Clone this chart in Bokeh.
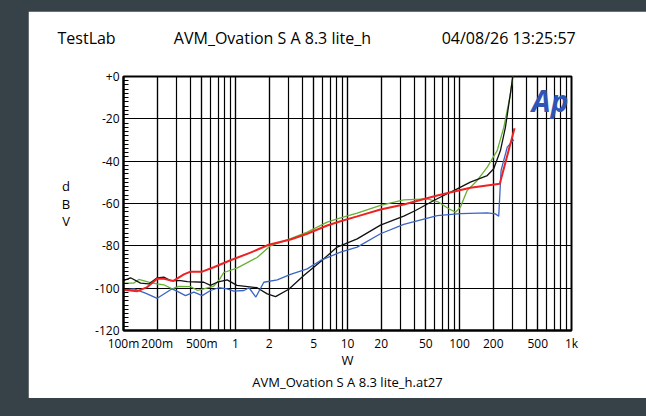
from bokeh.plotting import figure
from bokeh.models import FixedTicker, Label, Title, GlobalInlineStyleSheet
from bokeh.embed import file_html
from bokeh.resources import INLINE

# ---- axis ticks / labels ----
x_major = [0.1, 0.2, 0.5, 1, 2, 5, 10, 20, 50, 100, 200, 500, 1000]
x_labels = ["100m", "200m", "500m", "1", "2", "5", "10", "20", "50", "100", "200", "500", "1k"]
x_minor = [0.1, 0.2, 0.3, 0.4, 0.5, 0.6, 0.7, 0.8, 0.9,
           1, 2, 3, 4, 5, 6, 7, 8, 9,
           10, 20, 30, 40, 50, 60, 70, 80, 90,
           100, 200, 300, 400, 500, 600, 700, 800, 900, 1000]
y_major = [-120, -100, -80, -60, -40, -20, 0]
y_labels = ["-120", "-100", "-80", "-60", "-40", "-20", "+0"]
y_minor = list(range(-120, 1, 2))

header_texts = ["TestLab", "AVM_Ovation S A 8.3 lite_h", "04/08/26 13:25:57"]
x_title = "W"
y_title = "d\nB\nV"
file_title = "AVM_Ovation S A 8.3 lite_h.at27"

# ---- series (W, dBV) ----
red_w = [0.100, 0.133, 0.163, 0.200, 0.230, 0.279, 0.346, 0.397, 0.504, 0.640, 0.902, 1.36, 1.98,
         3.10, 4.37, 6.59, 8.66, 12.2, 19.7, 31.8, 63.2, 125, 229, 310]
red_db = [-100.8, -101.4, -99.5, -95.5, -95.6, -96.6, -93.5, -92.2, -92.2, -90.1, -86.8, -83.2, -79.5,
          -77.0, -74.3, -70.4, -68.4, -66.1, -62.8, -60.5, -56.2, -52.6, -50.7, -24.4]

black_w = [0.100, 0.1155, 0.142, 0.168, 0.200, 0.229, 0.263, 0.323, 0.371, 0.521, 0.598, 0.687, 0.843,
           1.03, 1.56, 1.92, 2.28, 2.99, 4.07, 5.94, 8.09, 12.2, 19.7, 31.8, 40.5, 59.0, 77.6, 95.4,
           125, 177, 202, 232, 257, 285, 300]
black_db = [-96.4, -95.1, -97.6, -98.0, -95.1, -94.8, -96.4, -96.4, -96.9, -97.2, -98.7, -97.2, -96.1,
            -98.7, -99.8, -102.7, -104.0, -100.5, -94.0, -86.8, -80.6, -76.7, -70.2, -66.0, -63.3, -58.6,
            -55.4, -53.1, -49.9, -46.8, -43.6, -35.0, -24.0, -8.0, 0.5]

green_w = [0.100, 0.124, 0.137, 0.168, 0.200, 0.229, 0.272, 0.312, 0.397, 0.455, 0.521, 0.640, 0.709,
           0.786, 1.03, 1.56, 2.05, 3.10, 4.37, 6.59, 8.66, 12.2, 19.7, 31.8, 51.5, 65.3, 80.2, 92.1,
           102, 117, 144, 177, 217, 249, 285, 300]
green_db = [-97.6, -97.6, -95.9, -97.2, -98.0, -98.4, -100.3, -99.2, -99.3, -101.0, -100.3, -99.0, -96.4,
            -92.6, -90.5, -85.5, -80.0, -76.6, -73.5, -68.8, -66.8, -64.6, -60.9, -58.3, -57.8, -59.4,
            -62.5, -64.1, -61.7, -53.9, -49.1, -42.8, -35.0, -23.9, -8.2, 0.5]

blue_w = [0.100, 0.124, 0.157, 0.200, 0.237, 0.272, 0.312, 0.358, 0.425, 0.504, 0.598, 0.709, 0.843,
          0.966, 1.19, 1.32, 1.52, 1.79, 2.36, 3.10, 4.37, 5.74, 8.66, 12.2, 19.7, 31.8, 63.2, 102,
          177, 209, 224, 235, 267, 305]
blue_db = [-100.8, -100.3, -102.3, -104.8, -102.3, -100.3, -101.9, -103.5, -101.9, -103.5, -101.1, -99.8,
           -100.3, -101.4, -101.1, -99.8, -104.2, -97.2, -96.1, -93.5, -90.9, -86.9, -83.0, -80.6, -74.3,
           -69.9, -65.7, -64.8, -64.4, -64.9, -66.0, -44.4, -33.4, -29.9]

FONT = "Open Sans"
NB = "\u00a0"

p = figure(x_axis_type="log", x_range=(0.1, 1000), y_range=(-120, 0),
           width=618, height=387,
           min_border_left=95, min_border_right=75, min_border_top=65, min_border_bottom=68,
           output_backend="svg", toolbar_location=None,
           background_fill_color="white", border_fill_color="white")
p.stylesheets = [GlobalInlineStyleSheet(css="html,body{background:#374148;} body{margin:0;padding:0;}")]
p.styles = {"position": "relative", "left": "28px", "top": "11px"}

# header line (one title row, three fields); a blank second line lifts the row upward
p.title = Title(text=header_texts[0] + NB * 14 + header_texts[1] + NB * 17 + header_texts[2] + "\n" + NB,
                align="left", vertical_align="top", offset=-66, standoff=8,
                text_font=FONT, text_font_size="16px",
                text_font_style="normal", text_color="black")

p.outline_line_color = "black"
p.outline_line_width = 2

# x axis
p.xaxis.ticker = FixedTicker(ticks=x_major, minor_ticks=x_minor)
p.xaxis.major_label_overrides = {t: l for t, l in zip(x_major, x_labels)}
p.xaxis.major_tick_in = 0
p.xaxis.major_tick_out = 0
p.xaxis.minor_tick_in = 0
p.xaxis.minor_tick_out = 0
p.xaxis.axis_line_color = "black"
p.xaxis.axis_line_width = 2
p.xaxis.major_label_standoff = 4
p.xaxis.axis_label = x_title
p.xaxis.axis_label_standoff = -4

# y axis
p.yaxis.ticker = FixedTicker(ticks=y_major, minor_ticks=y_minor)
p.yaxis.major_label_overrides = {t: l for t, l in zip(y_major, y_labels)}
p.yaxis.major_tick_in = 5
p.yaxis.major_tick_out = 0
p.yaxis.minor_tick_in = 5
p.yaxis.minor_tick_out = 0
p.yaxis.major_tick_line_color = "black"
p.yaxis.minor_tick_line_color = "black"
p.yaxis.axis_line_color = "black"
p.yaxis.axis_line_width = 2
p.yaxis.major_label_standoff = 4
p.yaxis.axis_label = y_title
p.yaxis.axis_label_orientation = "horizontal"
p.yaxis.axis_label_standoff = 22
p.yaxis.axis_label_text_line_height = 0.95

for ax in (p.xaxis, p.yaxis):
    ax.major_label_text_font = FONT
    ax.major_label_text_font_size = "12px"
    ax.major_label_text_color = "black"
    ax.axis_label_text_font = FONT
    ax.axis_label_text_font_size = "13px"
    ax.axis_label_text_font_style = "normal"
    ax.axis_label_text_color = "black"

p.add_layout(Title(text=file_title, align="center", text_font=FONT, text_font_size="13px",
                   text_font_style="normal", text_color="black", standoff=-2), "below")

# grids
p.xgrid.grid_line_color = "black"
p.xgrid.grid_line_width = 1.2
p.xgrid.minor_grid_line_color = "black"
p.xgrid.minor_grid_line_width = 1.2
p.ygrid.grid_line_color = "black"
p.ygrid.grid_line_width = 1.2

# curves
p.line(green_w, green_db, line_color="#66b032", line_width=1.3)
p.line(black_w, black_db, line_color="#111111", line_width=1.3)
p.line(blue_w, blue_db, line_color="#3a64c4", line_width=1.3)
p.line(red_w, red_db, line_color="#ee2222", line_width=2)

# Ap logo
p.add_layout(Label(x=445, y=230, x_units="screen", y_units="screen", text="Ap",
                   text_font=FONT, text_font_size="30px", text_align="right",
                   text_baseline="alphabetic", text_font_style="bold italic",
                   text_color="#2e55b5"))

open("out.html", "w").write(file_html(p, INLINE))
